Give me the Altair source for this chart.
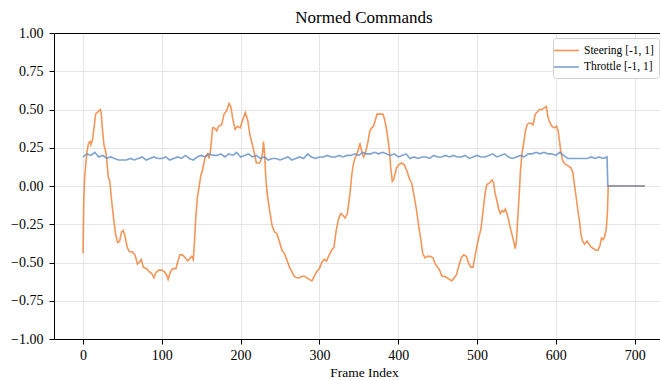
import altair as alt
import pandas as pd

# Steering command, normalised to [-1, 1], sampled along the frame index
steer_frame = [
    0, 1, 2, 3.5, 5, 7, 9, 10, 12, 14, 16, 18, 20, 22, 23, 24.5, 26.5, 29, 30, 32,
    34, 36, 39, 41.5, 44, 46.5, 49, 51, 53, 56, 59, 62.5, 66, 69, 71, 74, 76.5, 80.5,
    84, 87, 90, 92, 96, 100, 103, 106, 108, 111, 114, 118, 120, 123, 126, 130, 133,
    136, 138, 140, 141.5, 143, 145, 147.5, 149.5, 151.5, 155, 158, 160, 162, 164.5,
    166.5, 169.5, 172, 176, 179, 182, 185.5, 187.5, 190, 193, 196, 199.5, 202.5, 206,
    209, 212, 215, 218, 220, 224, 226, 228, 229, 230.5, 232, 234, 236.5, 240, 243,
    246, 249, 252.5, 255.5, 258.5, 262, 265, 268, 271, 274.5, 278, 281, 284, 287,
    290.5, 293.5, 296.5, 300, 303, 306, 309, 312.5, 315.5, 318.5, 321, 324, 327,
    329.5, 332.5, 335.5, 337, 339, 341, 343, 345, 347, 349.5, 351.5, 354, 356, 358,
    360, 362, 364, 366.5, 368.5, 371, 373, 375, 378, 380.5, 382.5, 384.5, 387, 389,
    390.5, 392.5, 394, 396, 398, 401, 404.5, 407.5, 411, 414, 417, 420, 423, 426,
    429, 431, 434, 437, 440.5, 444, 447, 450, 452.5, 455.5, 458.5, 462, 465, 468,
    471, 474, 477, 480, 483, 486.5, 489, 492, 495, 497, 500, 502, 505, 507.5, 510.5,
    512.5, 516, 519, 521, 523, 525, 527.5, 529.5, 532, 534, 536, 538, 540, 542,
    544.5, 546.5, 548.5, 550, 551.5, 553.5, 555, 557, 559.5, 561.5, 563.5, 565.5,
    568.5, 571, 574, 576, 579.5, 582.5, 585.5, 588, 590, 592, 595, 598, 601, 603,
    606, 608.5, 610.5, 613, 616, 619, 621.5, 623.5, 626, 628, 630, 632, 634, 636.5,
    639.5, 642, 645, 648, 650.5, 653.5, 656, 658, 660, 662, 664, 665.5, 666.5, 713,
]
steer_value = [
    -0.44, -0.10, 0.05, 0.14, 0.22, 0.28, 0.29, 0.27, 0.30, 0.38, 0.47, 0.48, 0.49,
    0.50, 0.48, 0.38, 0.27, 0.22, 0.18, 0.06, 0.03, -0.08, -0.22, -0.32, -0.37,
    -0.36, -0.30, -0.29, -0.32, -0.40, -0.43, -0.43, -0.45, -0.51, -0.50, -0.48,
    -0.53, -0.54, -0.56, -0.57, -0.60, -0.57, -0.55, -0.55, -0.56, -0.58, -0.61,
    -0.56, -0.54, -0.54, -0.50, -0.45, -0.45, -0.47, -0.49, -0.47, -0.46, -0.48,
    -0.36, -0.22, -0.08, 0.00, 0.07, 0.10, 0.19, 0.21, 0.18, 0.24, 0.38, 0.38, 0.36,
    0.39, 0.40, 0.47, 0.49, 0.54, 0.52, 0.44, 0.37, 0.39, 0.38, 0.43, 0.48, 0.43,
    0.33, 0.27, 0.20, 0.15, 0.15, 0.17, 0.22, 0.29, 0.21, 0.05, -0.06, -0.15, -0.26,
    -0.30, -0.31, -0.36, -0.42, -0.44, -0.48, -0.53, -0.56, -0.59, -0.60, -0.60,
    -0.59, -0.59, -0.60, -0.61, -0.62, -0.59, -0.56, -0.54, -0.50, -0.48, -0.49,
    -0.45, -0.42, -0.40, -0.30, -0.22, -0.18, -0.19, -0.21, -0.18, -0.12, -0.04,
    0.07, 0.14, 0.18, 0.20, 0.24, 0.28, 0.22, 0.19, 0.21, 0.25, 0.30, 0.36, 0.38,
    0.39, 0.43, 0.47, 0.47, 0.47, 0.47, 0.44, 0.39, 0.31, 0.22, 0.12, 0.03, 0.04,
    0.08, 0.12, 0.14, 0.15, 0.14, 0.10, 0.05, 0.02, -0.06, -0.15, -0.26, -0.36,
    -0.44, -0.47, -0.46, -0.46, -0.47, -0.51, -0.53, -0.55, -0.59, -0.59, -0.60,
    -0.61, -0.62, -0.60, -0.58, -0.52, -0.47, -0.45, -0.46, -0.50, -0.53, -0.53,
    -0.47, -0.39, -0.34, -0.28, -0.17, -0.04, 0.01, 0.02, 0.04, 0.02, -0.05, -0.09,
    -0.15, -0.18, -0.16, -0.17, -0.15, -0.18, -0.22, -0.27, -0.32, -0.36, -0.41,
    -0.36, -0.23, -0.06, 0.09, 0.21, 0.29, 0.36, 0.40, 0.41, 0.41, 0.40, 0.47, 0.48,
    0.50, 0.50, 0.51, 0.52, 0.45, 0.42, 0.39, 0.38, 0.39, 0.36, 0.24, 0.17, 0.15,
    0.14, 0.13, 0.12, 0.09, 0.01, -0.08, -0.16, -0.23, -0.32, -0.36, -0.38, -0.36,
    -0.38, -0.40, -0.41, -0.42, -0.42, -0.39, -0.34, -0.35, -0.33, -0.28, -0.17,
    0.00, 0.00,
]

# Throttle command, normalised to [-1, 1]
thr_frame = list(range(0, 670, 5)) + [666, 713]
thr_value = [
    0.19, 0.21, 0.20, 0.22, 0.19, 0.20, 0.18, 0.19, 0.18, 0.17, 0.17, 0.17, 0.18,
    0.17, 0.18, 0.19, 0.17, 0.18, 0.19, 0.18, 0.18, 0.19, 0.17, 0.18, 0.19, 0.18,
    0.20, 0.18, 0.17, 0.19, 0.20, 0.19, 0.21, 0.20, 0.20, 0.21, 0.19, 0.21, 0.20,
    0.22, 0.19, 0.20, 0.21, 0.19, 0.20, 0.18, 0.19, 0.17, 0.18, 0.18, 0.17, 0.18,
    0.19, 0.17, 0.18, 0.19, 0.18, 0.21, 0.19, 0.18, 0.19, 0.19, 0.20, 0.19, 0.19,
    0.20, 0.19, 0.20, 0.20, 0.21, 0.20, 0.22, 0.21, 0.21, 0.22, 0.21, 0.22, 0.21,
    0.20, 0.21, 0.19, 0.20, 0.21, 0.18, 0.19, 0.18, 0.19, 0.19, 0.18, 0.20, 0.19,
    0.19, 0.20, 0.19, 0.20, 0.19, 0.19, 0.20, 0.18, 0.19, 0.20, 0.19, 0.19, 0.20,
    0.21, 0.19, 0.20, 0.21, 0.19, 0.18, 0.19, 0.20, 0.19, 0.21, 0.21, 0.22, 0.21,
    0.22, 0.21, 0.21, 0.20, 0.22, 0.20, 0.18, 0.18, 0.18, 0.18, 0.18, 0.18, 0.19,
    0.18, 0.19, 0.18, 0.19,
    0.00, 0.00,
]

series_names = ["Steering [-1, 1]", "Throttle [-1, 1]"]
series_colors = ["#F07C31", "#5F8CC4"]

x_ticks = [0, 100, 200, 300, 400, 500, 600, 700]
y_ticks = [-1.0, -0.75, -0.5, -0.25, 0.0, 0.25, 0.5, 0.75, 1.0]

df = pd.concat([
    pd.DataFrame({"frame": steer_frame, "value": steer_value, "series": series_names[0]}),
    pd.DataFrame({"frame": thr_frame, "value": thr_value, "series": series_names[1]}),
], ignore_index=True)

FONT = "Liberation Serif"

x_scale = alt.Scale(domain=[-36.8, 732.2], nice=False, zero=False)
y_scale = alt.Scale(domain=[-1, 1], nice=False)
y_axis = alt.Axis(values=y_ticks, format=".2f", title=None, labelOverlap=False,
                  labelPadding=6, labelFont=FONT, labelFontSize=14,
                  labelExpr="replace(datum.label, '-', '\u2212')")

lines = alt.Chart(df).mark_line(strokeWidth=1.6, opacity=0.8).encode(
    x=alt.X("frame:Q", scale=x_scale,
            axis=alt.Axis(values=x_ticks, title="Frame Index", format="d",
                          titleX=310, labelOverlap=False, labelPadding=4,
                          labelFont=FONT, labelFontSize=14,
                          titleFont=FONT, titlePadding=3)),
    y=alt.Y("value:Q", scale=y_scale, axis=y_axis),
    color=alt.Color(
        "series:N",
        scale=alt.Scale(domain=series_names, range=series_colors),
        legend=alt.Legend(
            title=None, orient="none", legendX=499, legendY=5,
            symbolType="M-2,0H2", symbolSize=156, symbolStrokeWidth=1.6,
            symbolOffset=1,
            labelFont=FONT, labelFontSize=11.5, labelColor="black",
            labelOffset=10, rowPadding=3.5, padding=5,
            fillColor="white", strokeColor="#d0d0d0", cornerRadius=3,
        ),
    ),
    detail="series:N",
)

# top frame edge drawn as a bare axis domain
top_edge = alt.Chart(df).mark_line(opacity=0).encode(
    x=alt.X("frame:Q", scale=x_scale,
            axis=alt.Axis(orient="top", labels=False, ticks=False, grid=False,
                          title=None, domain=True)),
    y=alt.Y("value:Q", scale=y_scale, axis=y_axis),
    detail="series:N",
)

chart = alt.layer(lines, top_edge).resolve_axis(x="independent").properties(
    width=606, height=306,
    title=alt.TitleParams("Normed Commands", font=FONT, fontSize=17,
                          fontWeight="normal", color="black", dx=7, dy=5,
                          offset=4),
    autosize=alt.AutoSizeParams(type="none"),
    padding={"left": 54, "top": 33, "right": 0, "bottom": 41},
).configure_view(
    stroke=None
).configure_axis(
    domainColor="black", domainWidth=1, tickColor="black", tickSize=5,
    tickWidth=1, gridColor="#e6e6e6", gridWidth=1,
    labelFont=FONT, labelFontSize=14, labelColor="black",
    titleFont=FONT, titleFontSize=13.5, titleFontWeight="normal",
    titleColor="black",
)

chart.save("out.html", embed_options={"renderer": "svg", "actions": False})
